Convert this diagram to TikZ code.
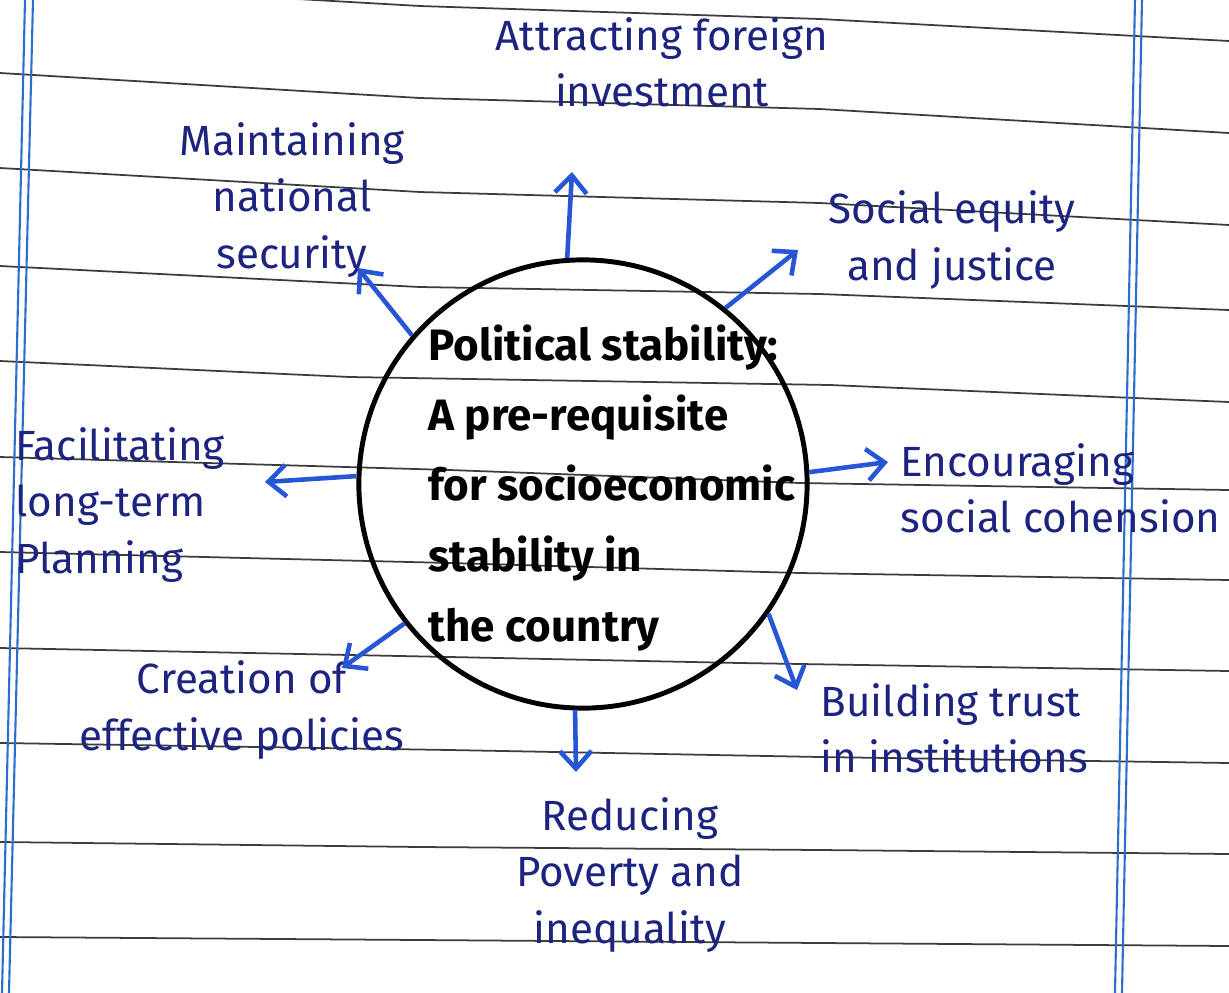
\documentclass[tikz,border=0pt]{standalone}
\usepackage{fontspec}
\setmainfont{Fira Sans}
\usetikzlibrary{arrows.meta}
\definecolor{inkblue}{RGB}{28,36,128}
\definecolor{penblue}{RGB}{38,86,214}
\definecolor{ruleline}{RGB}{60,60,60}
\definecolor{marginblue}{RGB}{45,110,205}

\begin{document}
\begin{tikzpicture}[x=0.01cm,y=-0.01cm,
    hub node/.style={circle,draw=black,line width=1.4pt,minimum size=4.48cm,inner sep=0pt},
    hub text/.style={align=left,inner sep=0pt,font=\fontsize{12.5}{20}\selectfont\bfseries},
    label node/.style={text=inkblue,inner sep=0pt,font=\fontsize{12}{16}\selectfont},
    pen arrow/.style={draw=penblue,line width=1.3pt,-{Straight Barb[length=5pt,width=9pt]}},
    rule/.style={ruleline,line width=0.5pt},
    margin/.style={marginblue,line width=0.6pt}]
  \useasboundingbox[fill=white] (0,0) rectangle (1229,993);
  % ruled paper
  \draw[rule] (0,-18) -- (420,6) -- (820,19) -- (1229,41);
  \draw[rule] (0,73) -- (420,98) -- (820,109) -- (1229,133);
  \draw[rule] (0,168) -- (420,192) -- (820,203) -- (1229,225);
  \draw[rule] (0,266) -- (420,287) -- (820,294) -- (1229,310);
  \draw[rule] (0,361) -- (350,377) -- (830,385) -- (1229,402);
  \draw[rule] (0,457) -- (450,470) -- (800,483) -- (1229,490);
  \draw[rule] (0,552) -- (450,563) -- (800,573) -- (1229,580);
  \draw[rule] (0,648) -- (450,657) -- (740,663) -- (1229,671);
  \draw[rule] (0,743) -- (450,750) -- (820,757) -- (1229,763);
  \draw[rule] (0,842) -- (420,847) -- (820,850) -- (1229,854);
  \draw[rule] (0,937) -- (420,940) -- (820,943) -- (1229,946);
  \draw[margin] (25,0) -- (2,993);
  \draw[margin] (33,0) -- (9,993);
  \draw[margin] (1135,0) -- (1115,993);
  \draw[margin] (1142,0) -- (1122,993);

  % centre
  \node[hub node] (hub) at (583,484) {};
  \node[hub text] (hubtxt) at (612,488) {Political stability:\\A pre-requisite\\for socioeconomic\\stability in\\the country};

  % labels
  \node[label node,align=center] (attract) at (662,62) {Attracting foreign\\investment};
  \node[label node,align=center] (security) at (292,200) {Maintaining\\national\\security};
  \node[label node,align=center] (equity) at (952,240) {Social equity\\and justice};
  \node[label node,align=left,anchor=west] (cohesion) at (900,488) {Encouraging\\social cohension};
  \node[label node,align=left,anchor=west] (planning) at (15,505) {Facilitating\\long-term\\Planning};
  \node[label node,align=center] (policies) at (242,710) {Creation of\\effective policies};
  \node[label node,align=left,anchor=west] (trust) at (820,728) {Building trust\\in institutions};
  \node[label node,align=center] (poverty) at (630,875) {Reducing\\Poverty and\\inequality};

  % arrow tips
  \coordinate (tattract) at (572,172);
  \coordinate (tequity) at (798,250);
  \coordinate (tcohesion) at (888,462);
  \coordinate (ttrust) at (797,690);
  \coordinate (tpoverty) at (576,772);
  \coordinate (tpolicies) at (342,668);
  \coordinate (tplanning) at (265,482);
  \coordinate (tsecurity) at (358,268);

  \path (hub.94) edge[pen arrow] (tattract);
  \path (hub.51) edge[pen arrow] (tequity);
  \path (hub.3) edge[pen arrow] (tcohesion);
  \path (hub.-35) edge[pen arrow] (ttrust);
  \path (hub.-92) edge[pen arrow] (tpoverty);
  \path (hub.-142) edge[pen arrow] (tpolicies);
  \path (hub.178) edge[pen arrow] (tplanning);
  \path (hub.139) edge[pen arrow] (tsecurity);
\end{tikzpicture}
\end{document}
